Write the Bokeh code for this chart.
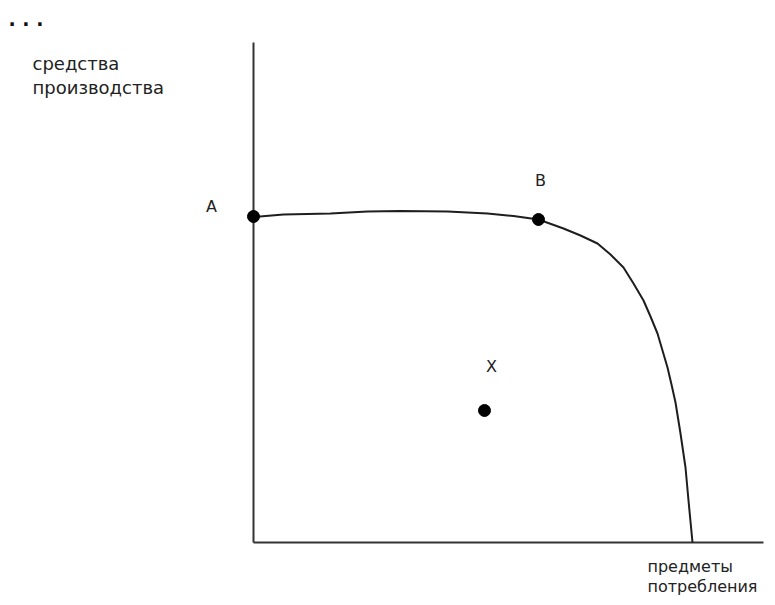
from bokeh.plotting import figure
from bokeh.models import Range1d, Label, ColumnDataSource
from bokeh.embed import file_html
from bokeh.resources import INLINE

# frontier curve (consumer goods vs. means of production)
curve_x = [0, 30, 77, 114, 147, 194, 234, 260, 285, 310, 327, 344, 357, 370, 380, 390, 397, 404, 409, 414, 418, 422, 427, 432, 435, 439]
curve_y = [325.5, 328, 329, 331, 331.5, 331, 329, 326.5, 323, 314, 307, 299, 288, 275, 259, 242, 226, 209, 192, 175, 158, 140, 109, 75, 42, 0]

point_names = ["A", "B", "X"]
point_x = [0, 285, 231]
point_y = [326, 323, 132]

# axis extents
x_axis_max = 510
y_axis_max = 500

x_label_lines = ["предметы", "потребления"]
y_label_lines = ["средства", "производства"]

W, H = 767, 597
p = figure(width=W, height=H, output_backend="svg", toolbar_location=None,
           x_range=Range1d(-253, W - 253), y_range=Range1d(-(H - 542), 542),
           min_border=0)
p.xaxis.visible = False
p.yaxis.visible = False
p.outline_line_color = None
p.grid.visible = False
p.background_fill_color = "white"
p.border_fill_color = "white"

axis_col = "#333333"
p.line([0, x_axis_max], [0, 0], line_color=axis_col, line_width=2)
p.line([0, 0], [0, y_axis_max], line_color=axis_col, line_width=2)

p.line(curve_x, curve_y, line_color="#1e1e1e", line_width=2)
src = ColumnDataSource(dict(x=point_x, y=point_y, name=point_names))
p.scatter("x", "y", source=src, size=12, fill_color="black", line_color="black")

font = "DejaVu Sans"
# point labels
lab_off = {"A": (-42, 10), "B": (2, 39), "X": (7, 44)}
for n, x, y in zip(point_names, point_x, point_y):
    dx, dy = lab_off[n]
    p.add_layout(Label(x=x + dx, y=y + dy, text=n, text_font=font, text_font_size="16px",
                       text_align="center", text_baseline="middle", text_color="#222222"))

# axis titles
for i, t in enumerate(y_label_lines):
    p.add_layout(Label(x=-221, y=479 - 24 * i, text=t, text_font=font, text_font_size="18px",
                       text_align="left", text_baseline="alphabetic", text_color="#222222"))
for i, t in enumerate(x_label_lines):
    p.add_layout(Label(x=394, y=-24 - 20 * i, text=t, text_font=font, text_font_size="16px",
                       text_align="left", text_baseline="alphabetic", text_color="#222222"))

# ellipsis at the top-left
p.add_layout(Label(x=-245, y=524, text=". . .", text_font=font, text_font_size="19px",
                   text_font_style="bold", text_align="left", text_baseline="alphabetic",
                   text_color="#111111"))

open("out.html", "w").write(file_html(p, INLINE))
